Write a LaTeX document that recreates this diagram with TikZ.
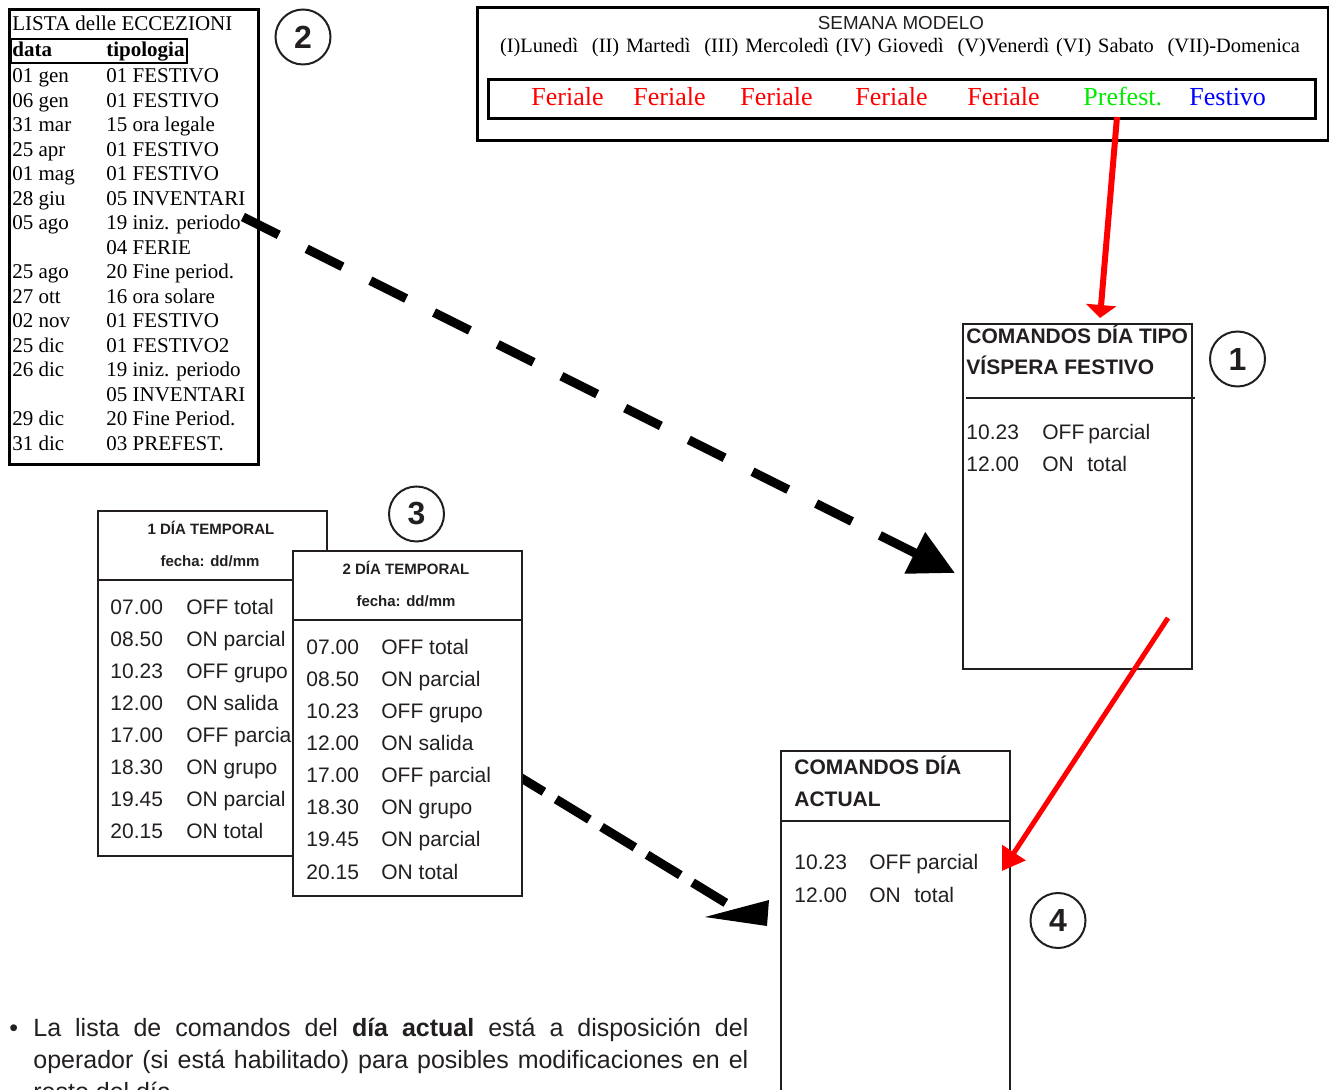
\documentclass[tikz,border=0pt]{standalone}
\usepackage{fontspec}
\setmainfont{Liberation Serif}
\setsansfont{Liberation Sans}
\usetikzlibrary{arrows.meta,positioning}

\definecolor{ink}     {RGB}{ 35, 31, 32}
\definecolor{ferred}  {RGB}{255,  0,  0}
\definecolor{pregreen}{RGB}{  0,235,  0}
\definecolor{fesblue} {RGB}{  0,  0,255}

\newcommand{\tmplist}{07.00/OFF total,08.50/ON parcial,10.23/OFF grupo,
  12.00/ON salida,17.00/OFF parcial,18.30/ON grupo,19.45/ON parcial,20.15/ON total}

\tikzset{
  boxframe/.style={draw,line width=1.5pt,fill=white,inner sep=0pt,anchor=north west},
  cmdframe/.style={boxframe,draw=ink,line width=1pt},
  sz/.style 2 args={minimum width=#1*0.5pt,minimum height=#2*0.5pt},
  sepline/.style={draw=ink,line width=1pt},
  lst/.style={anchor=base west,inner sep=0pt,font=\fontsize{10.5}{12}\selectfont},
  lsthead/.style={lst,font=\fontsize{10.5}{12}\selectfont\bfseries},
  cmd/.style={anchor=base west,inner sep=0pt,text=ink,
              font=\sffamily\fontsize{10.5}{12}\selectfont},
  cmdtitle/.style={cmd,font=\sffamily\bfseries\fontsize{10.5}{12}\selectfont},
  tmptitle/.style={anchor=base,inner sep=0pt,text=ink,
                   font=\sffamily\bfseries\fontsize{7.5}{9}\selectfont},
  dayword/.style={anchor=base west,inner sep=0pt,font=\fontsize{13}{14}\selectfont},
  badge/.style={circle,draw=ink,line width=1pt,minimum size=27.5pt,inner sep=0pt,
                text=ink,font=\sffamily\bfseries\fontsize{16}{16}\selectfont},
  dasharr/.style={line width=4.5pt,dash pattern=on 20pt off 15.6pt,
                  -{Triangle[length=22.5pt,width=22pt]}},
  dashline/.style={line width=4.5pt,dash pattern=on 19.5pt off 7.15pt,dash phase=20.45pt},
  redarr/.style={draw=ferred,line width=3pt,-{Triangle[length=6.5pt,width=15pt]}},
  note/.style={anchor=base west,inner sep=0pt,text=ink,
               font=\sffamily\fontsize{12.5}{16}\selectfont},
}

\begin{document}
\begin{tikzpicture}[x=0.5pt,y=-0.5pt,>=Stealth]
  \useasboundingbox (0,0) rectangle (1329,1090);
  \clip (0,0) rectangle (1329,1090);

  % lista delle eccezioni
  \node[boxframe,sz={249}{455}] (lista) at (8,8) {};
  \node[lst] (ltit) at (12,31) {LISTA delle ECCEZIONI};
  \node[boxframe,line width=1pt,fill=none,sz={176}{24}] (lhead) at (10,38) {};
  \node[lsthead] (hdata) at (12,57) {data};
  \node[lsthead] (htipo) at (106,57) {tipologia};
  \foreach \d/\t [count=\i from 0] in {01 gen/01 FESTIVO,06 gen/01 FESTIVO,
      31 mar/15 ora legale,25 apr/01 FESTIVO,01 mag/01 FESTIVO,28 giu/05 INVENTARI,
      05 ago/19 iniz. periodo,{}/04 FERIE,25 ago/20 Fine period.,27 ott/16 ora solare,
      02 nov/01 FESTIVO,25 dic/01 FESTIVO2,26 dic/19 iniz. periodo,{}/05 INVENTARI,
      29 dic/20 Fine Period.,31 dic/03 PREFEST.}{
    \node[lst] (ld\i) at (12,{83+24.5*\i}) {\d};
    \node[lst] (lt\i) at (106,{83+24.5*\i}) {\t};
  }
  \node[badge] (n2) at (303,37) {2};

  % semana modelo
  \node[boxframe,sz={851}{133}] (semana) at (476,6) {};
  \node[boxframe,sz={827}{39}] (giorni) at (487,78) {};
  \node[anchor=base,inner sep=0pt,text=ink,font=\sffamily\fontsize{9.4}{10}\selectfont]
    (stit) at (901,30) {SEMANA MODELO};
  \node[anchor=base,inner sep=0pt,font=\fontsize{10.2}{11}\selectfont] (sdays) at (900,53)
    {\makebox[400pt][s]{(I)Lunedì\ \ (II) Martedì\ \ (III) Mercoledì (IV) Giovedì\ \ (V)Venerdì (VI) Sabato\ \ (VII)-Domenica}};
  \foreach \w/\c/\x [count=\i] in {Feriale/ferred/531,Feriale/ferred/633,Feriale/ferred/740,
      Feriale/ferred/855,Feriale/ferred/967,Prefest./pregreen/1083,Festivo/fesblue/1189}
    \node[dayword,text=\c] (g\i) at (\x,106) {\w};

  % comandos dia tipo
  \node[cmdframe,sz={229}{345}] (tipo) at (962,323) {};
  \draw[sepline] (966,398) -- (1195,398);
  \node[cmdtitle] (tip1) at (966,344) {COMANDOS DÍA TIPO};
  \node[cmdtitle] (tip2) at (966,375) {VÍSPERA FESTIVO};
  \node[cmd] (tph1) at (966,440) {10.23};
  \node[cmd] (tpc1) at (1042,440) {OFF};
  \node[cmd] (tpw1) at (1088,440) {parcial};
  \node[cmd] (tph2) at (966,472) {12.00};
  \node[cmd] (tpc2) at (1042,472) {ON};
  \node[cmd] (tpw2) at (1087,472) {total};
  \node[badge] (n1) at (1237.5,359) {1};

  \coordinate (r1a) at (1117,117);
  \coordinate (r1b) at (1100,318);
  \draw[redarr] (r1a) -- (r1b);

  % dias temporales
  \node[cmdframe,sz={229}{345}] (temp1) at (97,510) {};
  \draw[sepline] (97,580) -- (326,580);
  \node[tmptitle] (t1a) at (211,535) {1 DÍA TEMPORAL};
  \node[tmptitle] (t1b) at (210,567) {fecha: dd/mm};
  \foreach \h/\c [count=\i from 0] in \tmplist {
    \node[cmd] (t1h\i) at (110,{615+32*\i}) {\h};
    \node[cmd] (t1c\i) at (186,{615+32*\i}) {\c};
  }

  \coordinate (d2a) at (500,765);
  \coordinate (d2b) at (726,903);
  \draw[dashline] (d2a) -- (d2b);
  \fill (705,917) -- (769,900) -- (767,926) -- cycle;

  \node[cmdframe,sz={229}{345}] (temp2) at (292,550) {};
  \draw[sepline] (292,620) -- (521,620);
  \node[tmptitle] (t2a) at (406,575) {2 DÍA TEMPORAL};
  \node[tmptitle] (t2b) at (406,607) {fecha: dd/mm};
  \foreach \h/\c [count=\i from 0] in \tmplist {
    \node[cmd] (t2h\i) at (306,{655+32*\i}) {\h};
    \node[cmd] (t2c\i) at (381,{655+32*\i}) {\c};
  }
  \node[badge] (n3) at (416.5,514) {3};

  % eccezioni -> tipo
  \coordinate (d1a) at (243,217);
  \coordinate (d1b) at (955,573);
  \draw[dasharr] (d1a) -- (d1b);

  % comandos dia actual
  \node[cmdframe,line width=1.2pt,sz={229}{360}] (actual) at (780,750) {};
  \draw[sepline] (780,821) -- (1009,821);
  \node[cmdtitle] (act1) at (794,775) {COMANDOS DÍA};
  \node[cmdtitle] (act2) at (794,807) {ACTUAL};
  \node[cmd] (ach1) at (794,870) {10.23};
  \node[cmd] (acc1) at (869,870) {OFF};
  \node[cmd] (acw1) at (916,870) {parcial};
  \node[cmd] (ach2) at (794,902) {12.00};
  \node[cmd] (acc2) at (869,902) {ON};
  \node[cmd] (acw2) at (914,902) {total};
  \node[badge] (n4) at (1058,920.5) {4};

  \coordinate (r2a) at (1168,618);
  \coordinate (r2b) at (1002,871);
  \draw[redarr,line width=2.5pt,-{Triangle[length=11pt,width=13.5pt]}] (r2a) -- (r2b);

  % nota
  \node[note] (bul) at (9,1036) {\textbullet};
  \node[note] (nl1) at (33,1036)
    {\makebox[357.5pt][s]{La lista de comandos del \textbf{día actual} está a disposición del}};
  \node[note] (nl2) at (33,1068)
    {\makebox[357.5pt][s]{operador (si está habilitado) para posibles modificaciones en el}};
  \node[note] (nl3) at (33,1100) {resto del día.};
\end{tikzpicture}
\end{document}
